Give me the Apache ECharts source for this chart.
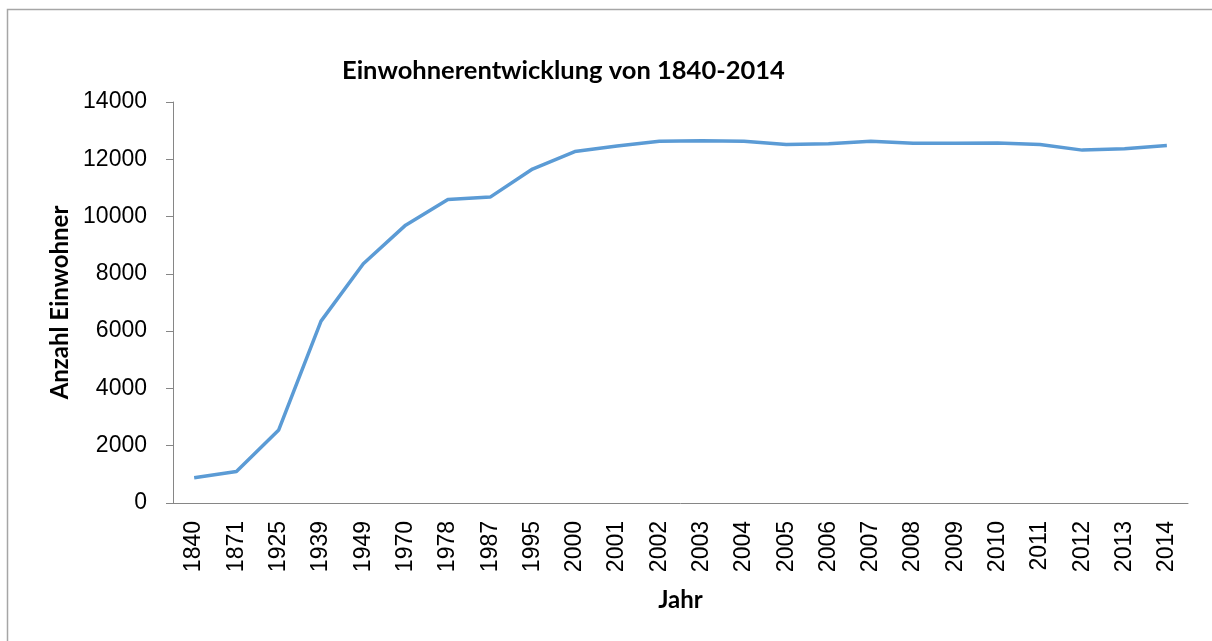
<!DOCTYPE html>
<html>
<head>
<meta charset="utf-8">
<script src="https://cdn.jsdelivr.net/npm/echarts@6/dist/echarts.min.js"></script>
<style>
  html, body { margin: 0; padding: 0; background: #fff; }
  #chart { width: 1212px; height: 641px; }
</style>
</head>
<body>
<div id="chart"></div>
<script>
  // Jahre (Kategorien)
  var jahre = ['1840','1871','1925','1939','1949','1970','1978','1987','1995','2000',
               '2001','2002','2003','2004','2005','2006','2007','2008','2009','2010',
               '2011','2012','2013','2014'];

  // Anzahl Einwohner
  var einwohner = [880, 1100, 2550, 6350, 8350, 9700, 10600, 10680, 11660, 12270,
                   12460, 12630, 12650, 12630, 12520, 12540, 12630, 12560, 12560, 12570,
                   12520, 12320, 12370, 12480];

  // y-Achse
  var yMin = 0, yMax = 14000, yStep = 2000;

  var myChart = echarts.init(document.getElementById('chart'));

  var option = {
    animation: false,
    backgroundColor: '#fff',
    graphic: [{
      type: 'rect',
      shape: { x: 7.5, y: 9.5, width: 1300, height: 700 },
      style: { fill: 'none', stroke: '#a6a6a6', lineWidth: 1.5 },
      silent: true
    }],
    title: {
      text: 'Einwohnerentwicklung von 1840-2014',
      left: 337,
      top: 53,
      textStyle: {
        fontFamily: 'Lato',
        fontWeight: 'bold',
        fontSize: 25.5,
        color: '#000'
      }
    },
    grid: {
      left: 173,
      right: 24,
      top: 102,
      bottom: 138
    },
    xAxis: {
      type: 'category',
      data: jahre,
      boundaryGap: true,
      name: 'Jahr',
      nameLocation: 'middle',
      nameGap: 85,
      nameTextStyle: {
        fontFamily: 'Lato',
        fontWeight: 'bold',
        fontSize: 24,
        color: '#000'
      },
      axisLine: { lineStyle: { color: '#868686', width: 1 } },
      axisTick: { show: false },
      axisLabel: {
        rotate: 90,
        interval: 0,
        margin: 18,
        fontFamily: 'Liberation Sans',
        fontSize: 23,
        color: '#000'
      },
      splitLine: { show: false }
    },
    yAxis: {
      type: 'value',
      min: yMin,
      max: yMax,
      interval: yStep,
      name: 'Anzahl Einwohner',
      nameLocation: 'middle',
      nameGap: 99,
      nameRotate: 90,
      nameTextStyle: {
        fontFamily: 'Lato',
        fontWeight: 'bold',
        fontSize: 24,
        color: '#000'
      },
      axisLine: { show: true, lineStyle: { color: '#868686', width: 1 } },
      axisTick: { show: true, length: 7, lineStyle: { color: '#868686' } },
      axisLabel: {
        margin: 26,
        fontFamily: 'Liberation Sans',
        fontSize: 23,
        color: '#000',
        formatter: function (v) { return String(v); }
      },
      splitLine: { show: false }
    },
    series: [{
      type: 'line',
      data: einwohner,
      symbol: 'none',
      lineStyle: { color: '#5b9bd5', width: 3.5 },
      itemStyle: { color: '#5b9bd5' }
    }]
  };

  myChart.setOption(option);
</script>
</body>
</html>
